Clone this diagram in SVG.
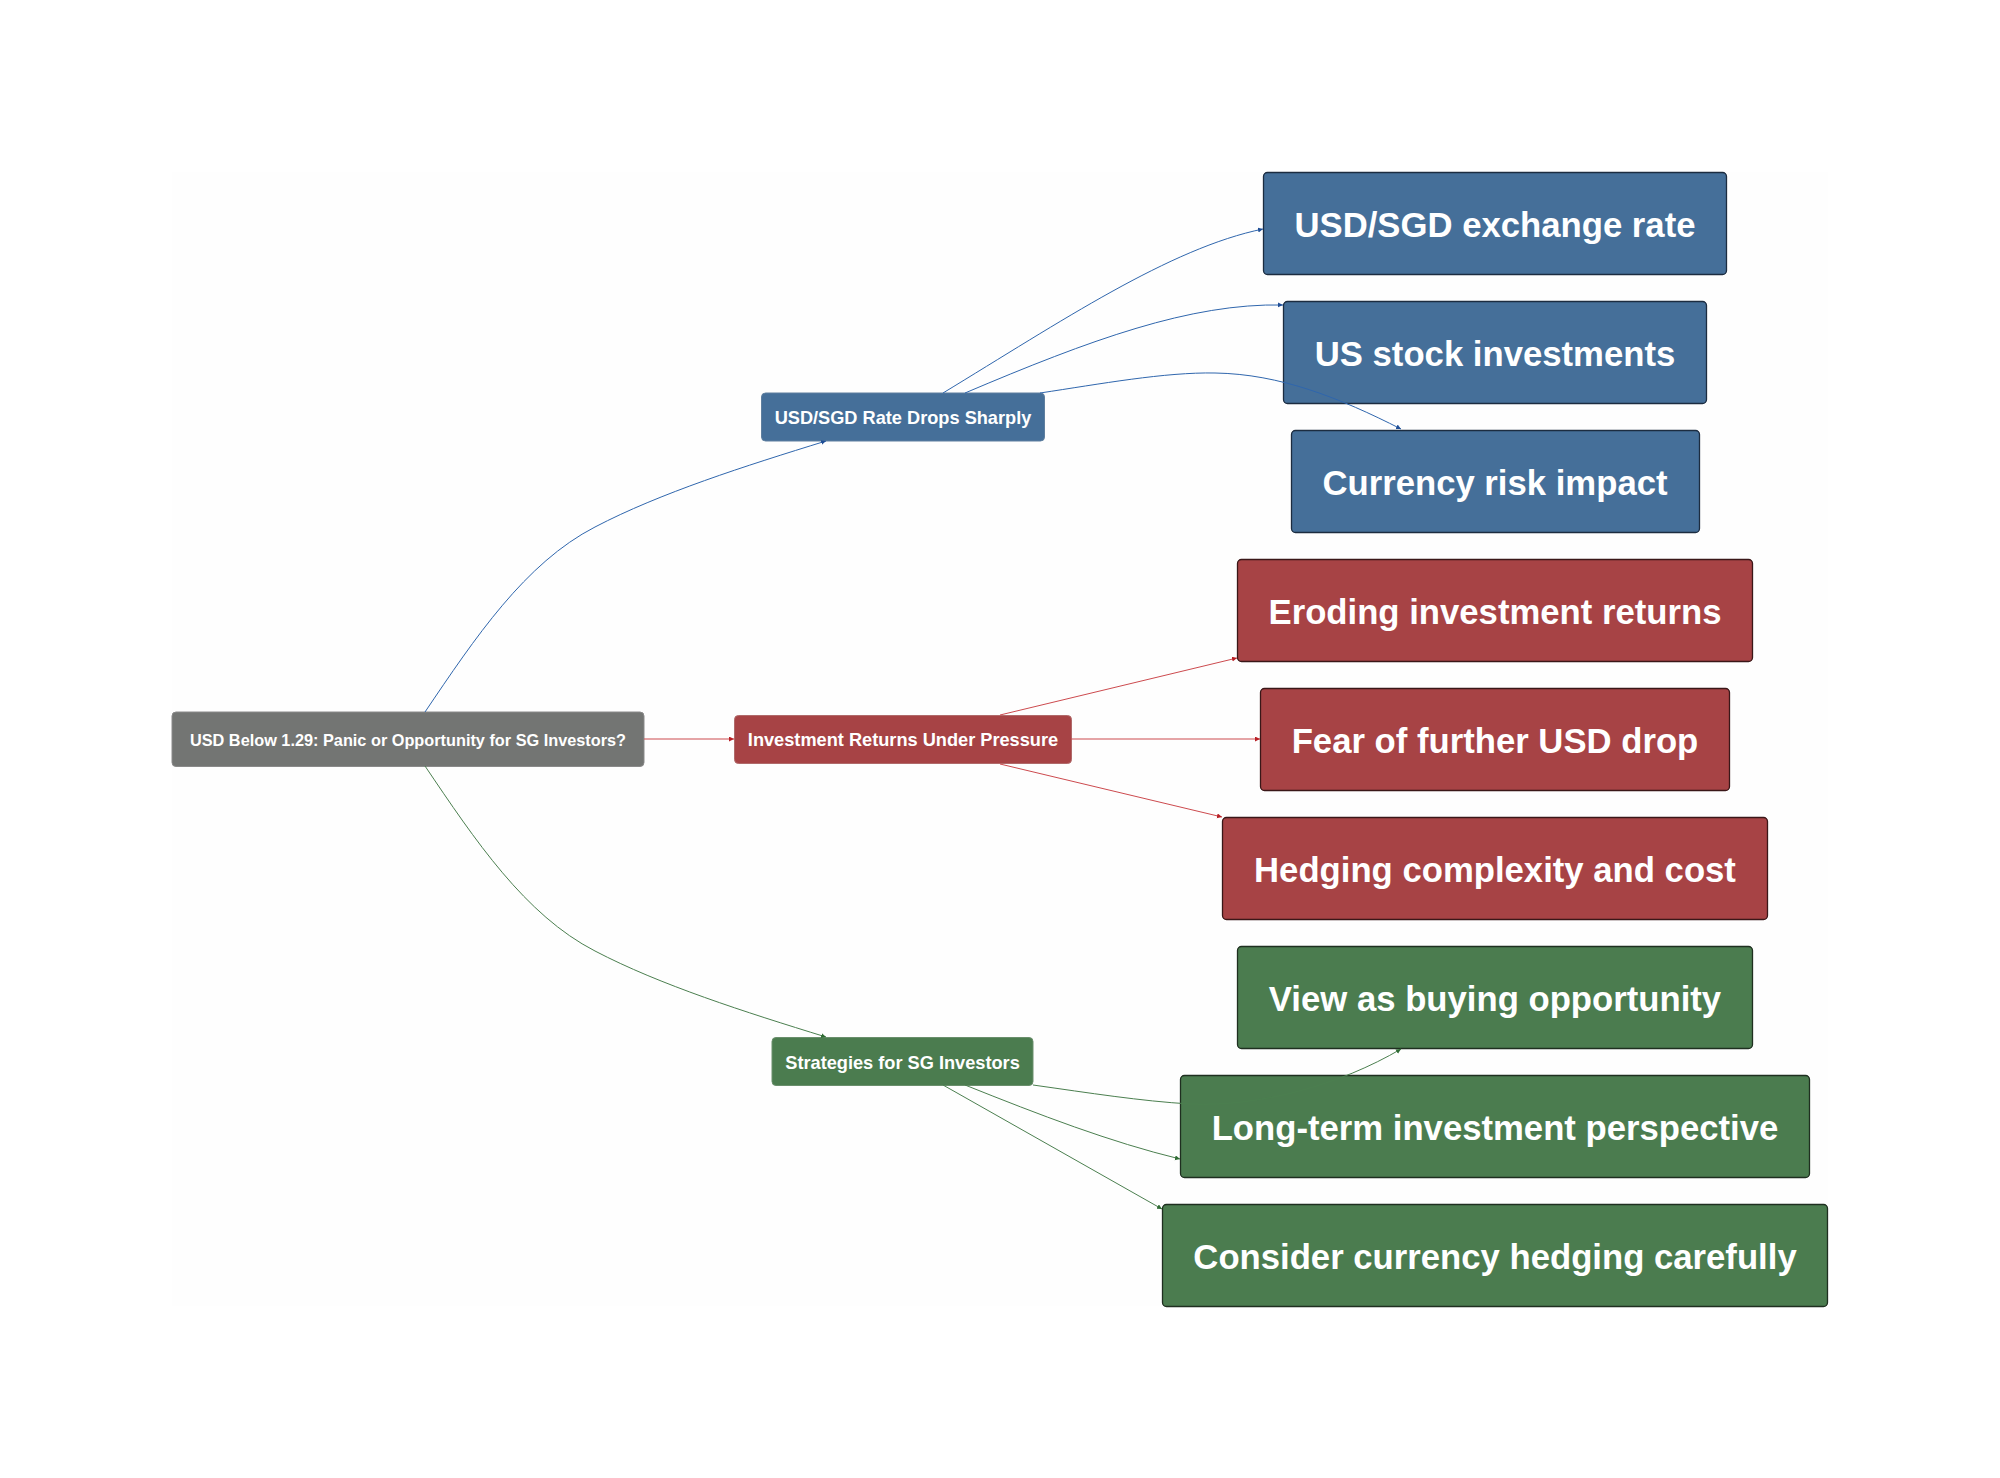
<svg xmlns="http://www.w3.org/2000/svg" width="2000" height="1478" viewBox="0 0 2000 1478">
<defs>
<marker id="mb" markerUnits="userSpaceOnUse" markerWidth="6" markerHeight="6" refX="5" refY="2.5" orient="auto"><path d="M0,0L5,2.5L0,5Z" fill="#1f4e96"/></marker>
<marker id="mr" markerUnits="userSpaceOnUse" markerWidth="6" markerHeight="6" refX="5" refY="2.5" orient="auto"><path d="M0,0L5,2.5L0,5Z" fill="#b81f25"/></marker>
<marker id="mg" markerUnits="userSpaceOnUse" markerWidth="6" markerHeight="6" refX="5" refY="2.5" orient="auto"><path d="M0,0L5,2.5L0,5Z" fill="#2f6b33"/></marker>
</defs>
<style>
text{font-family:"Liberation Sans",Arial,sans-serif;font-weight:700;fill:#fff;text-anchor:middle;dominant-baseline:central}
.rootlabel{font-size:16.3px}
.small{font-size:18.2px}
.big{font-size:34.7px}
.root{fill:#737573;stroke:#8a8a8a;stroke-width:1}
.bm{fill:#456f99;stroke:#5f7f9f;stroke-width:1}
.rm{fill:#a74345;stroke:#b06a6a;stroke-width:1}
.gm{fill:#4b7c4f;stroke:#6a8f6c;stroke-width:1}
.bl{fill:#456f99;stroke:#1c2c40;stroke-width:1.3}
.rl{fill:#a74345;stroke:#3a1718;stroke-width:1.3}
.gl{fill:#4b7c4f;stroke:#1f2f20;stroke-width:1.3}
.c{fill:none;stroke-width:1}
.cb{stroke:#2f66ad;marker-end:url(#mb)}
.cr{stroke:#cc4a4e;marker-end:url(#mr)}
.cg{stroke:#4b7f4f;marker-end:url(#mg)}
</style>
<rect x="172" y="172" width="1656" height="1134" fill="#fefefe"/>
<g id="node-root"><rect class="root" x="172" y="712" width="472" height="54.500" rx="4"/><text class="rootlabel" x="408" y="740">USD Below 1.29: Panic or Opportunity for SG Investors?</text></g>
<g id="node-rate"><rect class="bm" x="761.500" y="393" width="283" height="48" rx="4"/><text class="small" x="903" y="417.500">USD/SGD Rate Drops Sharply</text></g>
<g id="node-returns"><rect class="rm" x="734.500" y="715.500" width="337" height="48" rx="4"/><text class="small" x="903" y="740">Investment Returns Under Pressure</text></g>
<g id="node-strategies"><rect class="gm" x="772" y="1037.500" width="261" height="48" rx="4"/><text class="small" x="902.500" y="1062.500">Strategies for SG Investors</text></g>
<g id="node-b1"><rect class="bl" x="1263.500" y="172.500" width="463" height="102" rx="4"/><text class="big" x="1495" y="225">USD/SGD exchange rate</text></g>
<g id="node-b2"><rect class="bl" x="1283.500" y="301.500" width="423" height="102" rx="4"/><text class="big" x="1495" y="354">US stock investments</text></g>
<g id="node-b3"><rect class="bl" x="1291.500" y="430.500" width="408" height="102" rx="4"/><text class="big" x="1495" y="483">Currency risk impact</text></g>
<g id="node-r1"><rect class="rl" x="1237.500" y="559.500" width="515" height="102" rx="4"/><text class="big" x="1495" y="612">Eroding investment returns</text></g>
<g id="node-r2"><rect class="rl" x="1260.500" y="688.500" width="469" height="102" rx="4"/><text class="big" x="1495" y="741">Fear of further USD drop</text></g>
<g id="node-r3"><rect class="rl" x="1222.500" y="817.500" width="545" height="102" rx="4"/><text class="big" x="1495" y="870">Hedging complexity and cost</text></g>
<g id="node-g1"><rect class="gl" x="1237.500" y="946.500" width="515" height="102" rx="4"/><text class="big" x="1495" y="999">View as buying opportunity</text></g>
<g id="node-g2"><rect class="gl" x="1180.500" y="1075.500" width="629" height="102" rx="4"/><text class="big" x="1495" y="1128">Long-term investment perspective</text></g>
<g id="node-g3"><rect class="gl" x="1162.500" y="1204.500" width="665" height="102" rx="4"/><text class="big" x="1495" y="1257">Consider currency hedging carefully</text></g>
<g id="connectors">
<path class="c cb" d="M425,712C475,638 525,563 595,527C660,493 745,466 826,441"/>
<path class="c cr" d="M644,739H734"/>
<path class="c cg" d="M425,766C475,840 525,915 595,951C660,985 745,1012 826,1037"/>
<path class="c cb" d="M943,393C1060,322 1170,248 1263,229"/>
<path class="c cb" d="M965,393C1090,340 1190,303 1283,305"/>
<path class="c cb" d="M1040,393C1100,384 1165,372 1215,373C1280,374 1340,398 1401,429"/>
<path class="c cr" d="M1000,715L1237,658"/>
<path class="c cr" d="M1071,739H1260"/>
<path class="c cr" d="M1000,764L1222,817"/>
<path class="c cg" d="M1033,1085C1090,1093 1140,1101 1190,1104C1260,1107 1340,1085 1401,1049"/>
<path class="c cg" d="M965,1085C1040,1115 1110,1142 1180,1159"/>
<path class="c cg" d="M943,1085L1162,1209"/>
</g>
</svg>
